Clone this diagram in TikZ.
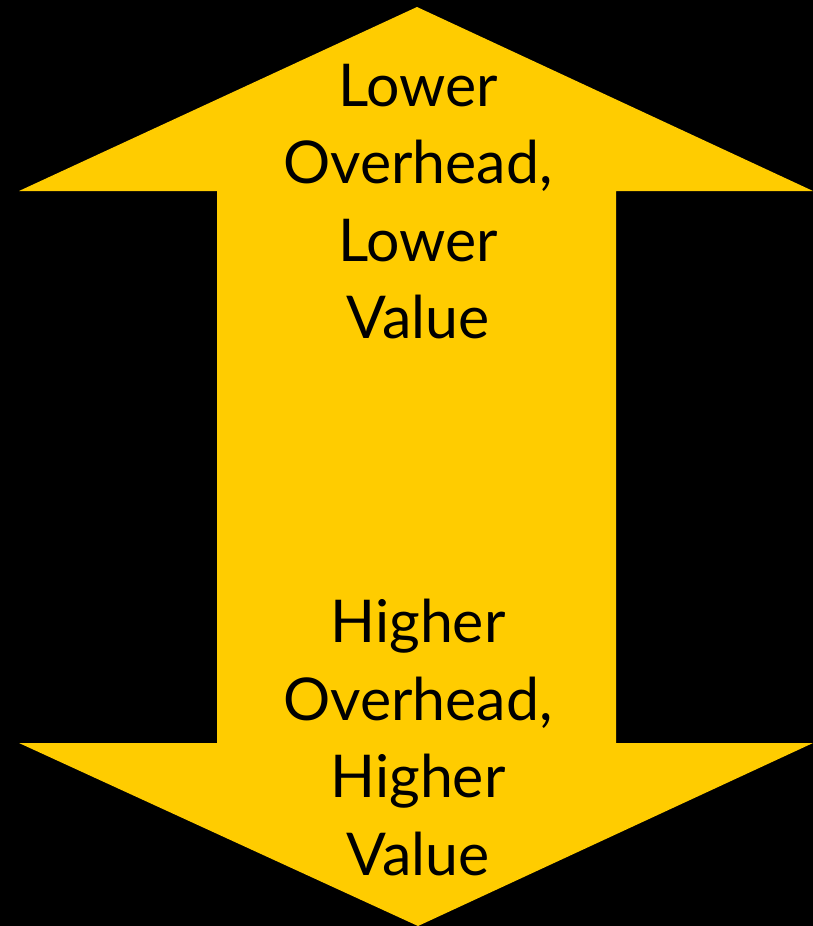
\documentclass[tikz,border=0pt]{standalone}
\usepackage{fontspec}
\setmainfont{Lato}
\definecolor{arrowyellow}{HTML}{FFCC00}
\tikzset{
  arrowshape/.style={fill=arrowyellow, draw=none},
  blocktext/.style={align=center, inner sep=0pt, text=black, font=\fontsize{59}{77.5}\selectfont}
}
\begin{document}
\begin{tikzpicture}[x=1pt,y=-1pt]
\fill[black] (0,0) rectangle (813,926);
\useasboundingbox (0,0) rectangle (813,926);
\coordinate (toptip) at (417,7);
\coordinate (botip) at (418,926);
\fill[arrowyellow] (toptip) -- (813,191) -- (616,191) -- (616,743) -- (813,743)
  -- (botip) -- (19,743) -- (217,743) -- (217,191) -- (19,191) -- cycle;
\node[blocktext, anchor=north] (upper) at (418,64) {Lower\\Overhead,\\Lower\\Value};
\node[blocktext, anchor=north] (lower) at (418,599) {Higher\\Overhead,\\Higher\\Value};
\end{tikzpicture}
\end{document}
